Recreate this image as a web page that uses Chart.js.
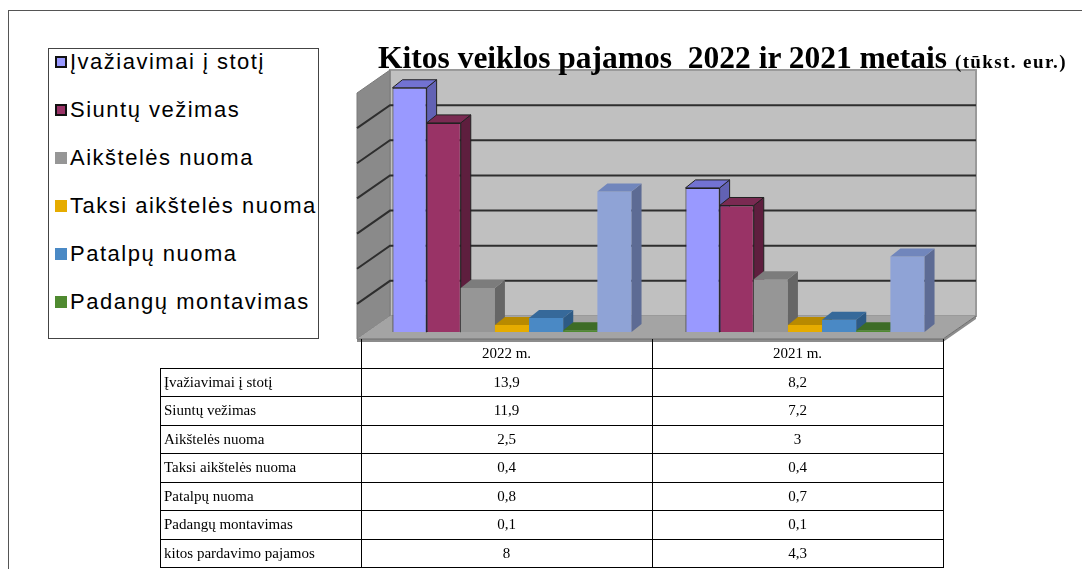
<!DOCTYPE html>
<html>
<head>
<meta charset="utf-8">
<script src="https://cdn.jsdelivr.net/npm/chart.js@4.4.0/dist/chart.umd.min.js"></script>
<style>
    html, body { margin: 0; padding: 0; background: #fff; }
    #wrap { position: relative; width: 1082px; height: 569px; overflow: hidden; }
    #frame { position: absolute; left: 8px; top: 10px; width: 1200px; height: 700px; border-left: 1px solid #555; border-top: 1px solid #555; }
    #chartBox { position: absolute; left: 0; top: 0; width: 1082px; height: 569px; }
    #title { position: absolute; left: 378px; top: 42px; white-space: nowrap; font-family: "Liberation Serif", "Times New Roman", serif; font-weight: bold; font-size: 31.5px; line-height: 31.5px; color: #000; z-index: 3; }
    #title small { font-size: 19px; letter-spacing: 1.4px; }
    #legend { position: absolute; left: 48px; top: 48px; width: 269px; height: 289px; border: 1px solid #444; background: #fff; font-family: "Liberation Sans", Arial, sans-serif; font-size: 22px; letter-spacing: 1.5px; color: #000; z-index: 2; }
    .item { position: absolute; left: 6px; height: 26px; line-height: 26px; white-space: nowrap; }
    .sw { display: inline-block; width: 12px; height: 12px; margin-right: 3px; vertical-align: 1px; box-sizing: border-box; }
    #dataTable { position: absolute; left: 160px; top: 339px; border-collapse: collapse; font-family: "Liberation Serif", "Times New Roman", serif; font-size: 15px; color: #000; z-index: 2; }
    #dataTable td { border: 1px solid #000; padding: 0 3px; white-space: nowrap; }
    #dataTable td.num { text-align: center; }
    #dataTable tr.head td { border-top: none; }
    #dataTable tr.head td.blank { border: none; border-bottom: 1px solid #000; }
</style>
</head>
<body>
<div id="wrap">
    <div id="frame"></div>
    <div id="chartBox"><canvas id="revenueChart"></canvas></div>
    <div id="title">Kitos veiklos pajamos&nbsp; 2022 ir 2021 metais <small>(tūkst. eur.)</small></div>
    <div id="legend"></div>
    <table id="dataTable"></table>
</div>
<script>
// kategorijos ir serijos
const categories = ['2022 m.', '2021 m.'];
const seriesNames = [
    'Įvažiavimai į stotį',
    'Siuntų vežimas',
    'Aikštelės nuoma',
    'Taksi aikštelės nuoma',
    'Patalpų nuoma',
    'Padangų montavimas',
    'kitos pardavimo pajamos'
];
const ivaziavimai = [13.9, 8.2];
const siuntos = [11.9, 7.2];
const aikstele = [2.5, 3];
const taksi = [0.4, 0.4];
const patalpos = [0.8, 0.7];
const padangos = [0.1, 0.1];
const kitos = [8, 4.3];
const yMax = 14;
const yStep = 2;

// front / top / side colours
const frontColors = ['#9999ff', '#993366', '#969696', '#e6ac00', '#4a89c5', '#4f8a30', '#8fa3d6'];
const topColors   = ['#7272d2', '#7a2a52', '#7c7c7c', '#b88a00', '#36699a', '#3d6c26', '#7186bc'];
const sideColors  = ['#6262b4', '#5e1e3e', '#666666', '#9a7400', '#2d5a85', '#335a20', '#5d6b94'];
const borderWidths = [1, 1, 0, 0, 0, 0, 0];

const allValues = [ivaziavimai, siuntos, aikstele, taksi, patalpos, padangos, kitos];

// 3D depth offsets
const BAR_DX = 10, BAR_DY = -8;
const BACK_DX = 24.5, BACK_DY = -16;
const FRONT_DX = -8.5, FRONT_DY = 7;

function fmt(v) {
    return String(v).replace('.', ',');
}

// legend (first six series)
const legendEl = document.getElementById('legend');
seriesNames.slice(0, 6).forEach((name, i) => {
    const div = document.createElement('div');
    div.className = 'item';
    div.style.top = (0 + i * 48) + 'px';
    const border = borderWidths[i] ? 'border:2px solid #111;' : '';
    div.innerHTML = `<span class="sw" style="background:${frontColors[i]};${border}"></span>${name}`;
    legendEl.appendChild(div);
});

// table
const table = document.getElementById('dataTable');
let html = '<tr class="head" style="height:29px"><td class="blank" style="width:194px"></td>';
categories.forEach(c => { html += `<td class="num" style="width:284px">${c}</td>`; });
html += '</tr>';
seriesNames.forEach((name, i) => {
    html += `<tr style="height:28.5px"><td>${name}</td>`;
    allValues[i].forEach(v => { html += `<td class="num">${fmt(v)}</td>`; });
    html += '</tr>';
});
table.innerHTML = html;

function poly(ctx, pts, fill, stroke, lw) {
    ctx.beginPath();
    ctx.moveTo(pts[0][0], pts[0][1]);
    for (let i = 1; i < pts.length; i++) ctx.lineTo(pts[i][0], pts[i][1]);
    ctx.closePath();
    if (fill) { ctx.fillStyle = fill; ctx.fill(); }
    if (stroke) { ctx.strokeStyle = stroke; ctx.lineWidth = lw || 1; ctx.stroke(); }
}

const wallsPlugin = {
    id: 'walls',
    beforeDatasetsDraw(chart) {
        const ctx = chart.ctx;
        const { left, right } = chart.chartArea;
        const y = chart.scales.y;
        const y0 = y.getPixelForValue(0);
        const yTop = y.getPixelForValue(yMax);
        ctx.save();
        // back wall
        poly(ctx, [[left + BACK_DX, yTop + BACK_DY], [right + BACK_DX, yTop + BACK_DY],
                   [right + BACK_DX, y0 + BACK_DY], [left + BACK_DX, y0 + BACK_DY]], '#c0c0c0', '#9a9a9a', 2);
        // left wall
        poly(ctx, [[left + FRONT_DX, yTop + FRONT_DY], [left + BACK_DX, yTop + BACK_DY],
                   [left + BACK_DX, y0 + BACK_DY], [left + FRONT_DX, y0 + FRONT_DY]], '#8a8a8a', '#7a7a7a', 1);
        // floor
        poly(ctx, [[left + FRONT_DX, y0 + FRONT_DY], [left + BACK_DX, y0 + BACK_DY],
                   [right + BACK_DX, y0 + BACK_DY], [right + FRONT_DX, y0 + FRONT_DY]], '#a4a4a4', null);
        // floor thickness
        poly(ctx, [[left + FRONT_DX, y0 + FRONT_DY], [right + FRONT_DX, y0 + FRONT_DY],
                   [right + BACK_DX, y0 + BACK_DY], [right + BACK_DX, y0 + BACK_DY + 3],
                   [right + FRONT_DX, y0 + FRONT_DY + 3], [left + FRONT_DX, y0 + FRONT_DY + 3]], '#8c8c8c', null);
        ctx.strokeStyle = '#6e6e6e';
        ctx.lineWidth = 1;
        ctx.beginPath();
        ctx.moveTo(left + FRONT_DX, y0 + FRONT_DY);
        ctx.lineTo(right + FRONT_DX, y0 + FRONT_DY);
        ctx.lineTo(right + BACK_DX, y0 + BACK_DY);
        ctx.stroke();
        // gridlines on back and left walls
        ctx.strokeStyle = '#2e2e2e';
        ctx.lineWidth = 2;
        y.ticks.forEach(t => {
            if (t.value <= 0 || t.value >= yMax) return;
            const py = y.getPixelForValue(t.value);
            ctx.beginPath();
            ctx.moveTo(left + FRONT_DX, py + FRONT_DY);
            ctx.lineTo(left + BACK_DX, py + BACK_DY);
            ctx.lineTo(right + BACK_DX, py + BACK_DY);
            ctx.stroke();
        });
        ctx.restore();
    },
    // skip default drawing; bars are drawn left to right below
    beforeDatasetDraw() {
        return false;
    },
    afterDatasetsDraw(chart) {
        const ctx = chart.ctx;
        ctx.save();
        for (let i = 0; i < chart.data.datasets.length; i++) {
            const meta = chart.getDatasetMeta(i);
            meta.data.forEach(el => {
                el.draw(ctx, chart.chartArea);
                const l = el.x - el.width / 2;
                const r = el.x + el.width / 2;
                const t = el.y;
                const b = el.base;
                const stroke = borderWidths[i] ? '#222' : null;
                poly(ctx, [[r, t], [r + BAR_DX, t + BAR_DY], [r + BAR_DX, b + BAR_DY], [r, b]], sideColors[i], stroke, 1);
                poly(ctx, [[l, t], [l + BAR_DX, t + BAR_DY], [r + BAR_DX, t + BAR_DY], [r, t]], topColors[i], stroke, 1);
            });
        }
        ctx.restore();
    }
};

const datasets = seriesNames.map((name, i) => ({
    label: name,
    data: allValues[i],
    backgroundColor: frontColors[i],
    borderColor: '#222',
    borderWidth: borderWidths[i],
    categoryPercentage: 0.816,
    barPercentage: 1
}));

new Chart(document.getElementById('revenueChart'), {
    type: 'bar',
    data: { labels: categories, datasets: datasets },
    options: {
        responsive: true,
        maintainAspectRatio: false,
        animation: false,
        layout: { padding: { left: 365.5, right: 130.5, top: 86, bottom: 237 } },
        plugins: {
            legend: { display: false },
            tooltip: { enabled: false },
            title: { display: false }
        },
        scales: {
            x: { display: false },
            y: { display: false, min: 0, max: yMax, ticks: { stepSize: yStep } }
        }
    },
    plugins: [wallsPlugin]
});
</script>
</body>
</html>
